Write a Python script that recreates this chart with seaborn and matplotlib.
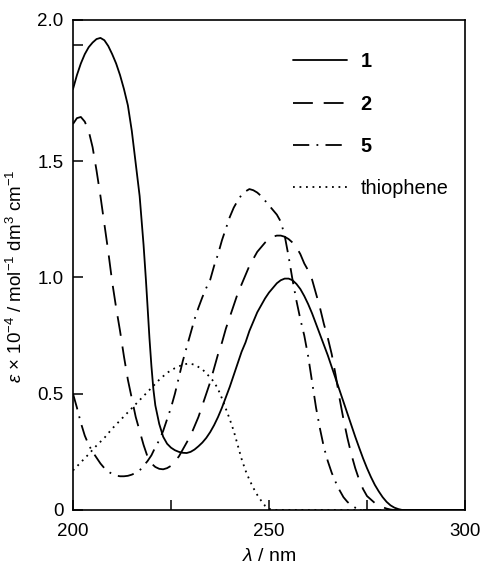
import matplotlib
matplotlib.use('Agg')
import matplotlib.pyplot as plt
import seaborn as sns

# ---- spectra (wavelength / nm, epsilon x 1e-4) ----
wl_1 = [200, 201, 202, 203, 204, 205, 206, 207, 208, 209, 210, 211, 212, 213, 214, 215, 216, 217,
        218, 218.6, 219, 219.5, 220, 220.5, 221, 222, 223, 224, 225, 226, 227, 228, 229, 230, 231,
        232, 233, 234, 235, 236, 237, 238, 239, 240, 241, 242, 243, 244, 245, 246, 247, 248, 249,
        250, 251, 252, 253, 254, 255, 256, 257, 258, 259, 260, 261, 262, 263, 264, 265, 266, 267,
        268, 269, 270, 271, 272, 273, 274, 275, 276, 277, 278, 279, 280, 281, 282, 283, 284, 300]
eps_1 = [1.81, 1.87, 1.92, 1.96, 1.99, 2.01, 2.025, 2.03, 2.02, 1.995, 1.96, 1.92, 1.87, 1.81, 1.74,
         1.63, 1.49, 1.35, 1.14, 0.99, 0.88, 0.74, 0.62, 0.52, 0.45, 0.37, 0.315, 0.285, 0.268,
         0.257, 0.25, 0.246, 0.245, 0.25, 0.26, 0.274, 0.29, 0.31, 0.335, 0.365, 0.40, 0.44, 0.485,
         0.53, 0.58, 0.63, 0.68, 0.72, 0.77, 0.81, 0.85, 0.88, 0.91, 0.935, 0.955, 0.975, 0.988,
         0.995, 0.995, 0.988, 0.972, 0.95, 0.92, 0.885, 0.845, 0.80, 0.755, 0.71, 0.665, 0.615,
         0.565, 0.515, 0.465, 0.415, 0.365, 0.315, 0.268, 0.222, 0.18, 0.142, 0.108, 0.08, 0.055,
         0.035, 0.02, 0.01, 0.004, 0.0, 0.0]

wl_2 = [200, 201, 202, 203, 204, 205, 206, 207, 208, 209, 210, 211, 212, 213, 214, 215, 216, 217,
        218, 219, 220, 221, 222, 223, 224, 225, 226, 227, 228, 229, 230, 231, 232, 233, 234, 235,
        236, 237, 238, 239, 240, 241, 242, 243, 244, 245, 246, 247, 248, 249, 250, 251, 252, 253,
        254, 255, 256, 257, 258, 259, 260, 261, 262, 263, 264, 265, 266, 267, 268, 269, 270, 271,
        272, 273, 274, 275, 276, 277, 278, 279, 280, 281, 282, 300]
eps_2 = [1.66, 1.685, 1.69, 1.67, 1.63, 1.56, 1.46, 1.35, 1.23, 1.11, 0.98, 0.87, 0.77, 0.66, 0.56,
         0.48, 0.40, 0.34, 0.28, 0.23, 0.20, 0.185, 0.177, 0.175, 0.18, 0.19, 0.21, 0.23, 0.26,
         0.29, 0.32, 0.36, 0.40, 0.45, 0.50, 0.55, 0.61, 0.67, 0.72, 0.78, 0.83, 0.88, 0.93, 0.97,
         1.01, 1.05, 1.08, 1.11, 1.13, 1.15, 1.165, 1.175, 1.18, 1.18, 1.175, 1.165, 1.15, 1.13,
         1.10, 1.06, 1.03, 0.99, 0.93, 0.87, 0.80, 0.74, 0.67, 0.58, 0.48, 0.39, 0.31, 0.24, 0.18,
         0.13, 0.09, 0.06, 0.045, 0.03, 0.02, 0.012, 0.006, 0.002, 0.0, 0.0]

wl_5 = [200, 201, 202, 203, 204, 205, 206, 207, 208, 209, 210, 211, 212, 213, 214, 215, 216, 217,
        218, 219, 220, 221, 222, 223, 224, 225, 226, 227, 228, 229, 230, 231, 232, 233, 234, 235,
        236, 237, 238, 239, 240, 241, 242, 243, 244, 245, 246, 247, 248, 249, 250, 251, 252, 253,
        254, 255, 256, 257, 258, 259, 260, 261, 262, 263, 264, 265, 266, 267, 268, 269, 270, 271,
        272, 273, 274, 300]
eps_5 = [0.50, 0.44, 0.375, 0.32, 0.28, 0.25, 0.225, 0.20, 0.18, 0.165, 0.155, 0.148, 0.145, 0.145,
         0.147, 0.152, 0.16, 0.17, 0.19, 0.21, 0.235, 0.27, 0.30, 0.34, 0.39, 0.44, 0.50, 0.57,
         0.64, 0.70, 0.76, 0.82, 0.87, 0.915, 0.955, 0.99, 1.05, 1.10, 1.16, 1.21, 1.26, 1.30,
         1.33, 1.355, 1.37, 1.38, 1.375, 1.365, 1.35, 1.33, 1.31, 1.29, 1.27, 1.24, 1.18, 1.09,
         0.99, 0.90, 0.82, 0.75, 0.66, 0.55, 0.44, 0.35, 0.27, 0.21, 0.16, 0.12, 0.085, 0.055,
         0.035, 0.02, 0.01, 0.004, 0.0, 0.0]

wl_th = [200, 202, 204, 206, 208, 210, 212, 214, 216, 218, 220, 222, 224, 226, 228, 229.5, 231,
         233, 235, 236, 237, 238, 239, 240, 241, 242, 243, 244, 245, 246, 247, 248, 249, 250, 251,
         300]
eps_th = [0.17, 0.205, 0.24, 0.277, 0.31, 0.35, 0.385, 0.42, 0.455, 0.49, 0.525, 0.56, 0.59, 0.61,
          0.625, 0.63, 0.625, 0.605, 0.57, 0.55, 0.52, 0.48, 0.435, 0.39, 0.34, 0.28, 0.22, 0.17,
          0.13, 0.095, 0.065, 0.04, 0.018, 0.005, 0.0, 0.0]

series = [
    ('1', wl_1, eps_1, '-'),
    ('2', wl_2, eps_2, (0, (11, 6))),
    ('5', wl_5, eps_5, (0, (9, 4, 1, 4))),
    ('thiophene', wl_th, eps_th, (0, (1, 2.6))),
]

sns.set_style('ticks')
plt.rcParams['font.family'] = ['Liberation Sans', 'DejaVu Sans']
plt.rcParams['mathtext.fontset'] = 'custom'
plt.rcParams['mathtext.rm'] = 'Liberation Sans'
plt.rcParams['mathtext.it'] = 'Liberation Sans:italic'
plt.rcParams['text.color'] = 'black'
plt.rcParams['axes.labelcolor'] = 'black'

fig = plt.figure(figsize=(4.82, 5.65), dpi=100)
ax = fig.add_axes([73 / 482, 1 - 510 / 565, (465 - 73) / 482, (510 - 20) / 565])

for name, x, y, ls in series:
    sns.lineplot(x=x, y=y, ax=ax, color='black', linewidth=1.3, linestyle=ls, label=name)

ax.set_xlim(200, 300)
ax.set_ylim(0, 2.107)
ax.set_xticks([200, 225, 250, 275, 300])
ax.set_xticklabels(['200', '', '250', '', '300'])
ax.set_yticks([0, 0.5, 1.0, 1.5, 2.0, 2.107])
ax.set_yticklabels(['0', '0.5', '1.0', '1.5', '', '2.0'])
ax.tick_params(direction='in', length=7, width=1.1, labelsize=13.5, colors='black')
ax.tick_params(axis='x', pad=9)
ax.tick_params(axis='y', pad=7)
for sp in ax.spines.values():
    sp.set_visible(True)
    sp.set_linewidth(1.2)
    sp.set_color('black')

ax.set_xlabel(r'$\lambda$ / nm', fontsize=14, labelpad=6)
ax.set_ylabel(r'$\varepsilon$ × 10$^{-4}$ / mol$^{-1}$ dm$^3$ cm$^{-1}$', fontsize=13.5)
ax.yaxis.set_label_coords(-47 / 392, (510 - 276) / 490)

leg = ax.legend(loc='upper right', frameon=False, fontsize=14.3, handlelength=2.67,
                labelspacing=1.18, handletextpad=0.7, bbox_to_anchor=(1.003, 0.971))
for txt in leg.get_texts()[:3]:
    txt.set_fontweight('bold')

plt.savefig('out.png', dpi=100)
plt.close()
